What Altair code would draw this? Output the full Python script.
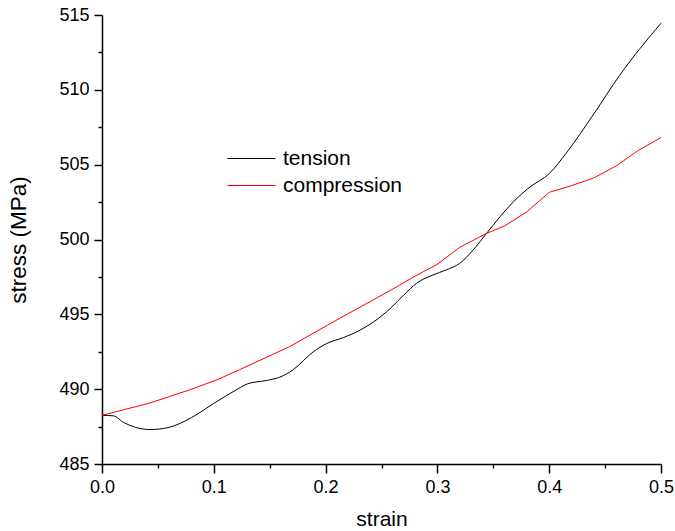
import altair as alt
import pandas as pd

# tension curve (strain, stress in MPa)
tension_strain = [0.0, 0.01, 0.02, 0.03, 0.043, 0.06, 0.08, 0.1, 0.12, 0.13, 0.147, 0.159,
                  0.171, 0.189, 0.201, 0.216, 0.231, 0.243, 0.258, 0.27, 0.2815, 0.296, 0.308,
                  0.32, 0.332, 0.344, 0.356, 0.368, 0.383, 0.4, 0.416, 0.44, 0.463, 0.5]
tension_stress = [488.25, 488.22, 487.75, 487.45, 487.3, 487.45, 488.1, 489.05, 489.95, 490.35,
                  490.58, 490.8, 491.3, 492.5, 493.05, 493.45, 493.95, 494.5, 495.4, 496.3,
                  497.08, 497.63, 497.97, 498.41, 499.3, 500.41, 501.52, 502.52, 503.52, 504.4,
                  505.85, 508.4, 510.97, 514.45]

# compression curve
compression_strain = [0.0, 0.043, 0.079, 0.103, 0.123, 0.168, 0.213, 0.258, 0.28, 0.30, 0.32,
                      0.344, 0.36, 0.38, 0.40, 0.42, 0.44, 0.46, 0.48, 0.50]
compression_stress = [488.25, 489.08, 489.97, 490.63, 491.3, 492.85, 494.75, 496.6, 497.55,
                      498.35, 499.48, 500.41, 500.9, 501.85, 503.15, 503.6, 504.12, 504.92,
                      505.97, 506.81]

series_names = ["tension", "compression"]
series_colors = ["black", "red"]

x_ticks = [round(i * 0.05, 2) for i in range(11)]
y_ticks = [485 + i * 2.5 for i in range(13)]

df_t = pd.DataFrame({"strain": tension_strain, "stress": tension_stress, "series": "tension"})
df_c = pd.DataFrame({"strain": compression_strain, "stress": compression_stress, "series": "compression"})

FONT = "Liberation Sans"

x_axis = alt.Axis(
    values=x_ticks,
    title="strain",
    grid=False,
    domainColor="black", domainWidth=1.5,
    tickColor="black", tickWidth=1.5,
    tickSize={"condition": {"test": "abs(datum.value*10 - round(datum.value*10)) < 0.001", "value": 9}, "value": 4},
    labelExpr="abs(datum.value*10 - round(datum.value*10)) < 0.001 ? format(datum.value, '.1f') : ''",
    labelFont=FONT, labelFontSize=18, labelColor="black", labelPadding=5,
    labelOverlap=False, labelFlush=False,
    titleFont=FONT, titleFontSize=21, titleFontWeight="normal", titleColor="black", titlePadding=12,
)
y_axis = alt.Axis(
    values=y_ticks,
    title="stress (MPa)",
    grid=False,
    domainColor="black", domainWidth=1.5,
    tickColor="black", tickWidth=1.5,
    tickSize={"condition": {"test": "datum.value % 5 == 0", "value": 8}, "value": 4},
    labelExpr="datum.value % 5 == 0 ? format(datum.value, 'd') : ''",
    labelFont=FONT, labelFontSize=18, labelColor="black", labelPadding=5,
    labelOverlap=False, labelFlush=False,
    titleFont=FONT, titleFontSize=22.5, titleFontWeight="normal", titleColor="black", titlePadding=28,
)

x_enc = alt.X("strain:Q", scale=alt.Scale(domain=[0, 0.5], nice=False, zero=False), axis=x_axis)
y_enc = alt.Y("stress:Q", scale=alt.Scale(domain=[485, 515], nice=False, zero=False), axis=y_axis)
color_enc = alt.Color(
    "series:N",
    scale=alt.Scale(domain=series_names, range=series_colors),
    legend=alt.Legend(
        title=None, orient="none", legendX=139, legendY=133,
        symbolType="M-4,0H4", symbolSize=144, symbolStrokeWidth=1,
        labelFont=FONT, labelFontSize=21, labelColor="black", labelOffset=21,
        rowPadding=5, padding=0,
    ),
)

tension = alt.Chart(df_t).mark_line(strokeWidth=1, interpolate="monotone").encode(
    x=x_enc, y=y_enc, color=color_enc)
compression = alt.Chart(df_c).mark_line(strokeWidth=1).encode(
    x=x_enc, y=y_enc, color=color_enc)

chart = alt.layer(tension, compression).properties(
    width=559, height=449,
    padding={"left": 102, "top": 15, "right": 14, "bottom": 67},
    autosize=alt.AutoSizeParams(type="none"),
).configure_view(stroke=None)

chart.save("out.html", embed_options={"renderer": "svg", "actions": False})
